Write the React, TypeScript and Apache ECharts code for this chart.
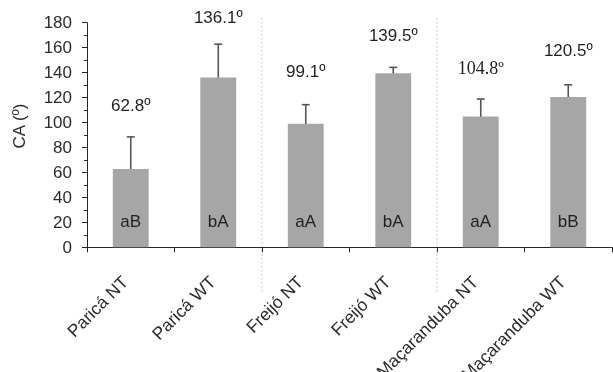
import React, { useEffect, useRef } from "react";
import * as echarts from "echarts";

const categories = ["Paricá NT", "Paricá WT", "Freijó NT", "Freijó WT", "Maçaranduba NT", "Maçaranduba WT"];
const meanCA = [62.8, 136.1, 99.1, 139.5, 104.8, 120.5];
const sdCA = [25.7, 26.7, 15.2, 4.7, 14.0, 9.7];
const groupLetters = ["aB", "bA", "aA", "bA", "aA", "bB"];
const labelHeights = [114, 184, 140.5, 170, 143.6, 158];
const serifLabelIndex = 4;
const separatorsAfter = [1, 3];
const yMin = 0;
const yMax = 180;
const yInterval = 20;

export default function App() {
  const ref = useRef<HTMLDivElement>(null);
  useEffect(() => {
    if (!ref.current) return;
    const chart = echarts.init(ref.current, undefined, { renderer: "svg" });
    const axisColor = "#262626";
    const textColor = "#2b2b2b";
    const sans = "Liberation Sans, Arial, sans-serif";
    chart.setOption({
      animation: false,
      grid: { left: 87, right: 1, top: 22.7, bottom: 124.7, containLabel: false, outerBoundsMode: "none" },
      xAxis: {
        type: "category",
        data: categories,
        axisLine: { lineStyle: { color: axisColor, width: 1 } },
        axisTick: { show: true, length: 5, lineStyle: { color: axisColor } },
        axisLabel: {
          rotate: 45,
          interval: 0,
          margin: 26,
          padding: [0, 8, 0, 0],
          fontSize: 17.5,
          color: textColor,
          fontFamily: sans,
        },
      },
      yAxis: {
        type: "value",
        min: yMin,
        max: yMax,
        interval: yInterval,
        name: "CA (º)",
        nameLocation: "middle",
        nameGap: 59,
        nameTextStyle: {
          fontSize: 17,
          color: textColor,
          fontFamily: sans,
          padding: [0, 0, 0, 18],
        },
        axisLine: { show: true, lineStyle: { color: axisColor, width: 1 } },
        axisTick: { show: true, length: 5, lineStyle: { color: axisColor } },
        minorTick: { show: true, splitNumber: 2, length: 3, lineStyle: { color: axisColor } },
        splitLine: { show: false },
        axisLabel: {
          fontSize: 17,
          color: textColor,
          margin: 15,
          fontFamily: sans,
        },
      },
      series: [
        {
          type: "bar",
          data: meanCA.map((v, i) => ({
            value: v,
            label: { formatter: groupLetters[i] },
          })),
          barWidth: "41%",
          itemStyle: { color: "#a6a6a6" },
          label: {
            show: true,
            position: "insideBottom",
            distance: 17,
            fontSize: 17,
            color: "#1f1f1f",
            fontFamily: sans,
          },
        },
        {
          type: "custom",
          clip: false,
          data: meanCA.map((v, i) => [i, v, sdCA[i], labelHeights[i]]),
          renderItem: (params: any, api: any) => {
            const x = api.value(0);
            const m = api.value(1);
            const sd = api.value(2);
            const lh = api.value(3);
            const top = api.coord([x, m + sd]);
            const bot = api.coord([x, m - sd]);
            const lbl = api.coord([x, lh]);
            const cap = 4;
            const st = { stroke: "#555555", lineWidth: 1.6 };
            const serif = params.dataIndex === serifLabelIndex;
            return {
              type: "group",
              children: [
                { type: "line", shape: { x1: top[0], y1: top[1], x2: bot[0], y2: bot[1] }, style: st },
                { type: "line", shape: { x1: top[0] - cap, y1: top[1], x2: top[0] + cap, y2: top[1] }, style: st },
                { type: "line", shape: { x1: bot[0] - cap, y1: bot[1], x2: bot[0] + cap, y2: bot[1] }, style: st },
                {
                  type: "text",
                  x: lbl[0],
                  y: lbl[1],
                  style: {
                    text: `${m.toFixed(1)}º`,
                    align: "center",
                    verticalAlign: "middle",
                    fill: "#1f1f1f",
                    fontSize: serif ? 18 : 17,
                    fontFamily: serif ? "Liberation Serif, Times New Roman, serif" : sans,
                  },
                },
              ],
            };
          },
        },
      ],
    });

    const yTop = chart.convertToPixel({ yAxisIndex: 0 }, yMax) as number;
    const yBase = chart.convertToPixel({ yAxisIndex: 0 }, yMin) as number;
    const lines = separatorsAfter.map((i) => {
      const a = chart.convertToPixel({ xAxisIndex: 0 }, i) as number;
      const b = chart.convertToPixel({ xAxisIndex: 0 }, i + 1) as number;
      const x = (a + b) / 2;
      return {
        type: "line",
        silent: true,
        shape: { x1: x, y1: yTop - 5, x2: x, y2: yBase + 45 },
        style: { stroke: "#c4c4c4", lineWidth: 1, lineDash: [2, 2] },
        z: 0,
      };
    });
    chart.setOption({ graphic: lines });

    return () => chart.dispose();
  }, []);
  return (
    <div
      ref={ref}
      style={{ position: "fixed", left: 0, top: 0, width: 613, height: 372 }}
    />
  );
}
